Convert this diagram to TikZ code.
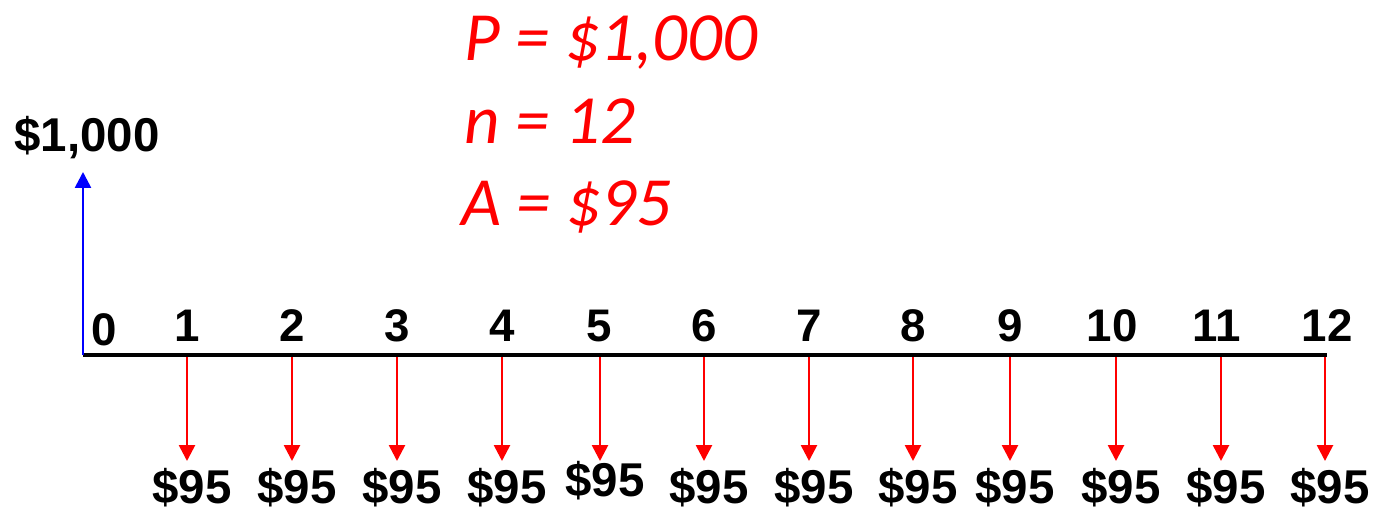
\documentclass[tikz,border=0pt]{standalone}
\usepackage{fontspec}
\setmainfont{Liberation Sans}
\newfontfamily\givenfont{Carlito}
\usetikzlibrary{arrows.meta}
\definecolor{paycol}{RGB}{255,0,0}
\definecolor{loancol}{RGB}{0,0,255}
\tikzset{
  period label/.style={font=\bfseries\fontsize{26}{31}\selectfont,inner sep=0pt,anchor=base},
  cash label/.style={font=\bfseries\fontsize{27}{32}\selectfont,inner sep=0pt,anchor=base},
  given label/.style={font=\givenfont\itshape\fontsize{39.3}{47}\selectfont,text=paycol,anchor=base west,inner sep=0pt},
  timeline/.style={line width=2.4pt},
  payedge/.style={-{Triangle[length=9pt,width=9pt]},draw=paycol,line width=1.5pt},
  loanedge/.style={-{Triangle[length=9pt,width=9pt]},draw=loancol,line width=1.5pt}
}

\begin{document}
\begin{tikzpicture}[x=0.02cm,y=-0.02cm]
\useasboundingbox (0,0) rectangle (1375,510);
% ---- given values ----
\node[given label] (gP) at (464,61) {P = \$1,000};
\node[given label] (gn) at (464,143) {n = 12};
\node[given label] (gA) at (461,225) {A = \$95};
% ---- time line ----
\coordinate (o) at (83,355);
\coordinate (end) at (1327,355);
\draw[timeline] (o) -- (end);
\coordinate (up) at (83,172);
\draw[loanedge] (o) -- (up);
\node[cash label] (loan) at (87,152) {\$1,000};
\node[period label] (t0) at (104,345) {0};
% ---- payments ----
\foreach \n/\x/\tx/\py in {1/187/187/503,2/292/292/503,3/397/397/503,4/502/502/503,
    5/600/599/496,6/704/704/503,7/809/809/503,8/913/913/503,9/1010/1010/503,
    10/1116/1112/503,11/1221/1217/503,12/1325/1327/503}{
  \node[period label] (t\n) at (\tx,341) {\n};
  \coordinate (a\n) at (\x,357);
  \coordinate (e\n) at (\x,461);
  \draw[payedge] (a\n) -- (e\n);
  \node[cash label] (p\n) at (\x+5,\py) {\$95};}
\end{tikzpicture}
\end{document}
